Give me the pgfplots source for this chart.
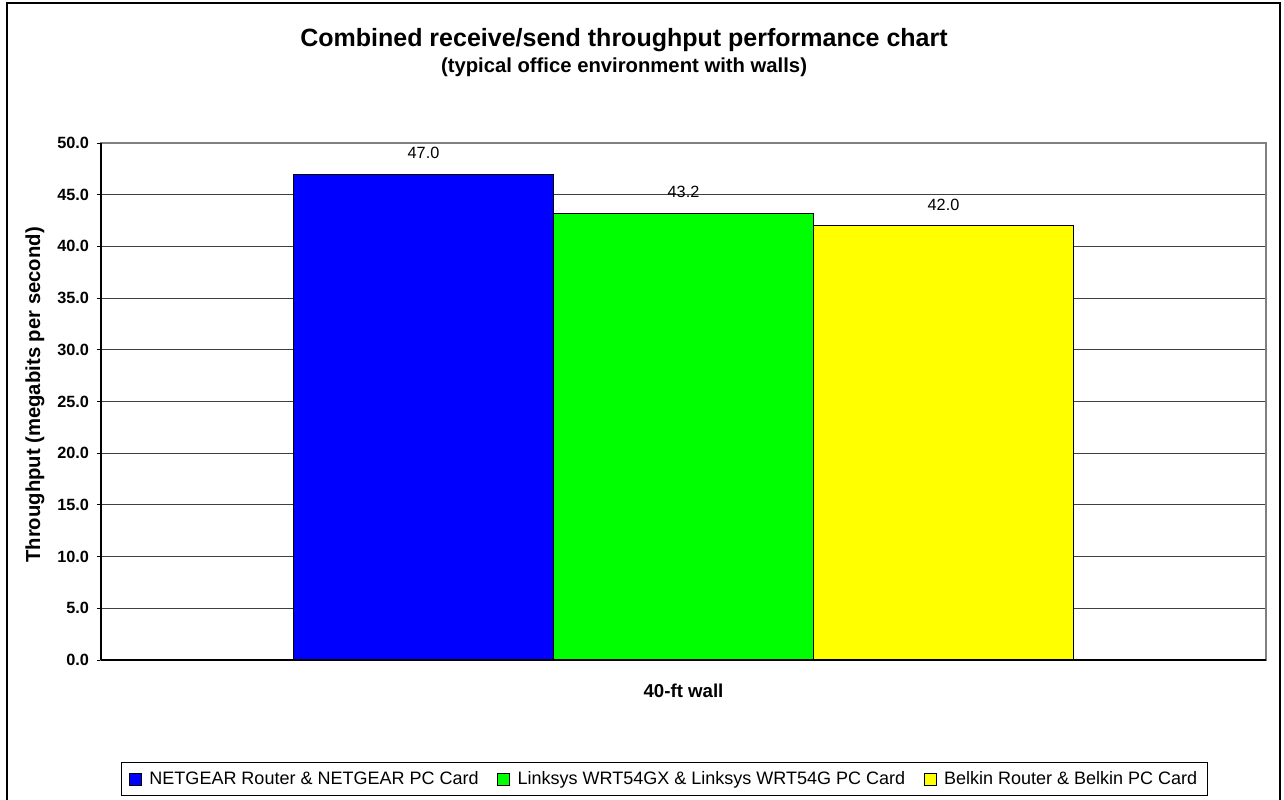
\documentclass[border=0pt]{standalone}
\usepackage{pgfplots}
\pgfplotsset{compat=1.18}
\usepackage{fontspec}
\setmainfont{Liberation Sans}
\definecolor{xblue}{RGB}{0,0,255}
\definecolor{xgreen}{RGB}{0,255,0}
\definecolor{xyellow}{RGB}{255,255,0}
\pgfplotsset{sqlegend/.style={legend image code/.code={\draw[##1, line width=0.6pt] (0pt,-4.5pt) rectangle (9pt,4.5pt); \path[draw=none, fill=none] (0pt,0pt) -- (13pt,0pt);}}}
\begin{document}
\begin{tikzpicture}
\useasboundingbox (0,0) rectangle (963pt,599.25pt);
\draw[line width=1.5pt] (5.25pt,-5pt) -- (5.25pt,597pt) -- (960pt,597pt) -- (960pt,-5pt);
\node[font=\bfseries\fontsize{18.75}{22}\selectfont, anchor=base] at (468pt,564pt) {Combined receive/send throughput performance chart};
\node[font=\bfseries\fontsize{15.2}{18}\selectfont, anchor=base] at (468pt,544.5pt) {(typical office environment with walls)};
\begin{axis}[
  at={(75.75pt,104.25pt)}, anchor=south west,
  width=873.75pt, height=387.75pt, scale only axis,
  xmin=-1.5, xmax=1.5, ymin=0, ymax=50,
  ybar=0pt, bar width=195pt,
  xtick={0}, xticklabels={40-ft wall},
  xtick pos=bottom, ytick pos=left,
  x tick style={draw=none},
  extra x ticks={-1.5,1.5}, extra x tick labels={},
  extra x tick style={grid=none, tick align=outside, major tick length=4pt, tick style={draw=black}},
  ytick={0,5,...,50},
  y tick style={draw=black, line width=0.6pt},
  tick align=outside, major tick length=3pt,
  ymajorgrids, grid style={draw=black!75, line width=0.6pt},
  axis line style={draw=black!50, line width=1.2pt},
  /pgf/number format/assume math mode=true,
  yticklabel={\pgfmathprintnumber[fixed,fixed zerofill,precision=1]{\tick}},
  yticklabel style={font=\bfseries\fontsize{12.2}{14}\selectfont, xshift=-2.5pt},
  xticklabel style={font=\bfseries\fontsize{14}{16}\selectfont, anchor=base, yshift=-24.75pt},
  ylabel={Throughput (megabits per second)},
  ylabel style={font=\bfseries\fontsize{15.2}{17}\selectfont, at={(axis description cs:-0.0567,0.5126)}, anchor=center},
  nodes near coords={\pgfmathprintnumber[fixed,fixed zerofill,precision=1]{\pgfplotspointmeta}},
  every node near coord/.append style={font=\fontsize{12.2}{14}\selectfont, inner sep=0pt, yshift=11.25pt, black},
  legend columns=3,
  legend style={at={(0.4837,-0.2302)}, anchor=center, draw=black, line width=0.8pt,
    font=\fontsize{13.5}{15}\selectfont, inner xsep=6pt, inner ysep=5pt,
    /tikz/every even column/.append style={column sep=12pt}},
  after end axis/.code={
    \draw[black, line width=1.2pt] (rel axis cs:0,0) -- (rel axis cs:1,0);
    \draw[black, line width=1.2pt] (rel axis cs:0,0) -- (rel axis cs:0,1);
  },
]
\addplot[fill=xblue, draw=black, line width=0.7pt, sqlegend] coordinates {(0,47.0)};
\addplot[fill=xgreen, draw=black, line width=0.7pt, sqlegend] coordinates {(0,43.2)};
\addplot[fill=xyellow, draw=black, line width=0.7pt, sqlegend] coordinates {(0,42.0)};
\legend{NETGEAR Router \& NETGEAR PC Card, Linksys WRT54GX \& Linksys WRT54G PC Card, Belkin Router \& Belkin PC Card}
\end{axis}
\end{tikzpicture}
\end{document}
